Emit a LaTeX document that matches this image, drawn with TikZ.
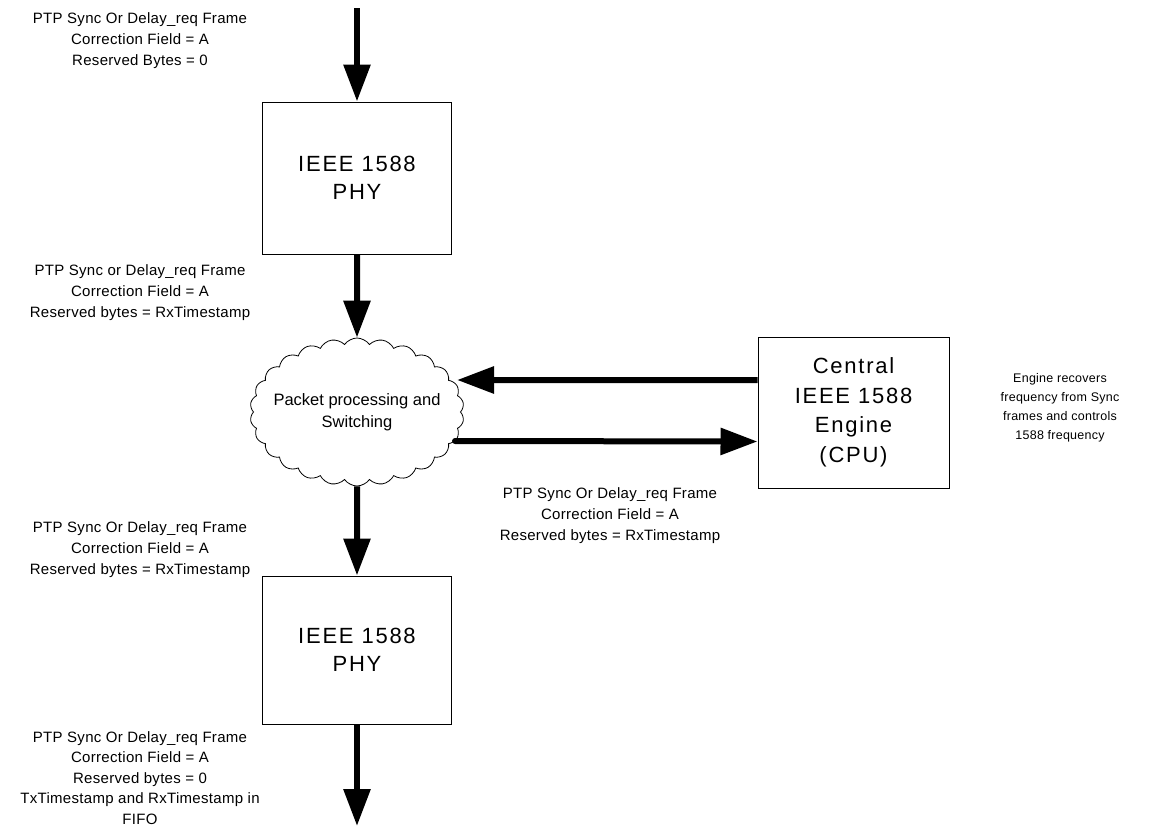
\documentclass[tikz,border=0pt]{standalone}
\usepackage{fontspec}
\setmainfont{Liberation Sans}
\usetikzlibrary{arrows.meta,shapes.symbols}
\newfontfamily\boxfont[LetterSpace=8]{Liberation Sans}
\newfontfamily\lblfont[LetterSpace=2,WordSpace=1.25]{Liberation Sans}
\newfontfamily\notefont[LetterSpace=2]{Liberation Sans}
\tikzset{
  blk/.style={draw, line width=1pt, minimum width=189pt, minimum height=152pt, inner sep=0pt,
    align=center, font=\boxfont\fontsize{22}{28}\selectfont},
  lbl/.style={align=center, inner sep=0pt, font=\lblfont\fontsize{15}{21}\selectfont},
  arr/.style={line width=6pt, -{Triangle[length=37pt,width=26pt]}},
}
\begin{document}
\begin{tikzpicture}[x=1pt,y=-1pt]
\useasboundingbox (0,0) rectangle (1152,827);
\node[blk] (phy1) at (357,178) {IEEE 1588\\PHY};
\node[blk, minimum height=148pt] (phy2) at (357,650) {IEEE 1588\\PHY};
\node[blk, minimum width=191pt, minimum height=151pt, font=\boxfont\fontsize{22}{29.5}\selectfont] (cpu) at (853.5,412.5) {Central\\IEEE 1588\\Engine\\(CPU)};
\node[cloud, draw, line width=0.8pt, cloud puffs=26, cloud puff arc=110, cloud ignores aspect,
  minimum width=214pt, minimum height=148pt, inner xsep=-12pt, inner ysep=-4pt, align=center,
  font=\fontsize{16.5}{22}\selectfont] (cloud) at (357,412) {Packet processing and\\Switching};
\coordinate (top) at (357,8);
\coordinate (bot) at (357,826);
\draw[arr] (top) -- (phy1.north);
\draw[arr] (phy1.south) -- (cloud.north);
\draw[arr] (cloud.south) -- (phy2.north);
\draw[arr] (phy2.south) -- (bot);
\draw[arr] ([yshift=32.5pt]cpu.west) -- ([xshift=-4pt,yshift=32pt]cloud.east);
\draw[arr, line cap=round] ([xshift=-6pt,yshift=-29pt]cloud.east) -- ([yshift=-29pt]cpu.west);
\node[lbl] (l1) at (140,41) {PTP Sync Or Delay\_req Frame\\Correction Field = A\\Reserved Bytes = 0};
\node[lbl] (l2) at (140,293) {PTP Sync or Delay\_req Frame\\Correction Field = A\\Reserved bytes = RxTimestamp};
\node[lbl] (l3) at (610,516) {PTP Sync Or Delay\_req Frame\\Correction Field = A\\Reserved bytes = RxTimestamp};
\node[lbl] (l4) at (140,550) {PTP Sync Or Delay\_req Frame\\Correction Field = A\\Reserved bytes = RxTimestamp};
\node[lbl, anchor=north, font=\lblfont\fontsize{15}{20.5}\selectfont] (l5) at (140,731) {PTP Sync Or Delay\_req Frame\\Correction Field = A\\Reserved bytes = 0\\TxTimestamp and RxTimestamp in\\FIFO};
\node[align=center, inner sep=0pt, font=\notefont\fontsize{12.5}{19}\selectfont] (note) at (1060,408) {Engine recovers\\frequency from Sync\\frames and controls\\1588 frequency};
\end{tikzpicture}
\end{document}
